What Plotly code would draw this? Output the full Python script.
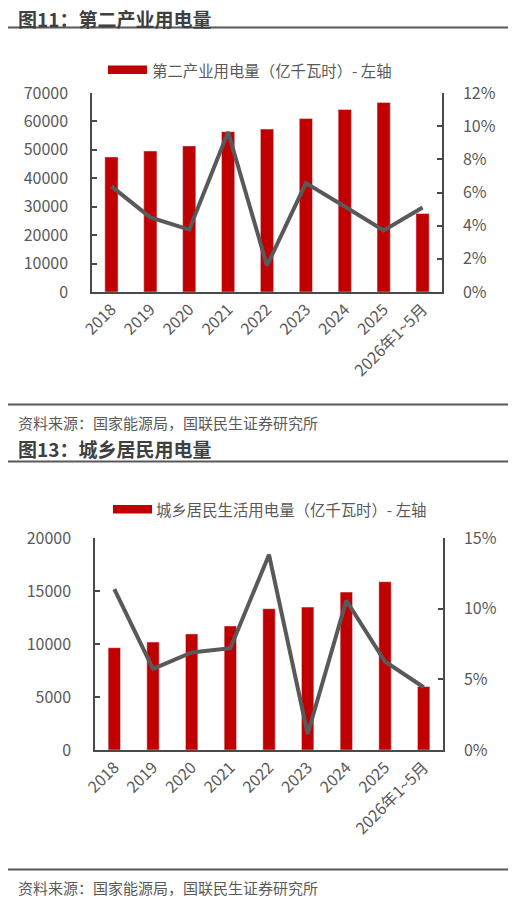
import plotly.graph_objects as go

# 数据
anos = ["2018", "2019", "2020", "2021", "2022", "2023", "2024", "2025", "2026年1~5月"]

# 图11 第二产业用电量（亿千瓦时）及同比
ind_consumo = [47500, 49600, 51400, 56400, 57300, 61000, 64200, 66700, 27600]
ind_yoy = [0.0637, 0.0450, 0.0376, 0.0965, 0.0159, 0.0657, 0.0516, 0.0371, 0.0510]

# 图13 城乡居民生活用电量（亿千瓦时）及同比
res_consumo = [9650, 10180, 10950, 11700, 13330, 13480, 14900, 15880, 5990]
res_yoy = [0.1139, 0.0574, 0.0690, 0.0720, 0.1382, 0.0113, 0.1058, 0.0626, 0.0444]

W, H = 516, 899
OFF = 8  # margem do body da página
FONTE = "Noto Sans CJK SC, Microsoft YaHei, sans-serif"
CINZA = "#595959"
EIXO = "#4a4a4a"
VERMELHO = "#C00000"


def px(x):
    return (x - OFF) / W


def py(y):
    return 1 - (y - OFF) / H


fig = go.Figure()

# barras + linha do gráfico 1
fig.add_trace(go.Bar(x=anos, y=ind_consumo, marker_color=VERMELHO, width=0.34,
                     xaxis="x", yaxis="y", showlegend=False))
fig.add_trace(go.Scatter(x=anos, y=ind_yoy, mode="lines", line=dict(color=CINZA, width=4),
                         xaxis="x", yaxis="y2", showlegend=False))

# barras + linha do gráfico 2
fig.add_trace(go.Bar(x=anos, y=res_consumo, marker_color=VERMELHO, width=0.32,
                     xaxis="x2", yaxis="y3", showlegend=False))
fig.add_trace(go.Scatter(x=anos, y=res_yoy, mode="lines", line=dict(color=CINZA, width=4),
                         xaxis="x2", yaxis="y4", showlegend=False))

tick_font = dict(family=FONTE, size=16, color=CINZA)

eixo_x = dict(showline=True, linecolor=EIXO, linewidth=1.5, ticks="", tickangle=-45,
              tickfont=tick_font, showgrid=False, fixedrange=True, automargin=False)
eixo_y = dict(showline=True, linecolor=EIXO, linewidth=1.5, ticks="inside", ticklen=5,
              tickcolor=EIXO, tickwidth=1.5, tickfont=tick_font, showgrid=False,
              zeroline=False, automargin=False)

fig.update_layout(
    width=W, height=H,
    margin=dict(l=0, r=0, t=0, b=0, autoexpand=False),
    paper_bgcolor="white", plot_bgcolor="white",
    font=dict(family=FONTE, color=CINZA),
    xaxis=dict(eixo_x, domain=[px(92), px(442)], anchor="y"),
    yaxis=dict(eixo_y, domain=[py(292), py(93)], range=[0, 70000], dtick=10000,
               tickformat="d", ticklabelstandoff=19, anchor="x"),
    yaxis2=dict(eixo_y, overlaying="y", side="right", range=[0, 0.12], dtick=0.02,
                tickformat=".0%", ticklabelstandoff=16, anchor="x"),
    xaxis2=dict(eixo_x, domain=[px(95), px(443)], anchor="y3"),
    yaxis3=dict(eixo_y, domain=[py(750), py(538)], range=[0, 20000], dtick=5000,
                tickformat="d", ticklabelstandoff=19, anchor="x2"),
    yaxis4=dict(eixo_y, overlaying="y3", side="right", range=[0, 0.15], dtick=0.05,
                tickformat=".0%", ticklabelstandoff=16, anchor="x2"),
)

# títulos, fontes e legendas como texto
textos = [
    ("图11：第二产业用电量", 17, 18, 19, True),
    ("资料来源：国家能源局，国联民生证券研究所", 17, 422, 15, False),
    ("图13：城乡居民用电量", 17, 448.5, 19, True),
    ("资料来源：国家能源局，国联民生证券研究所", 17, 887.5, 15, False),
    ("第二产业用电量（亿千瓦时）- 左轴", 151, 70, 15.4, False),
    ("城乡居民生活用电量（亿千瓦时）- 左轴", 155, 509, 15.4, False),
]
for txt, x, y, tam, negrito in textos:
    fig.add_annotation(
        text=f"<b>{txt}</b>" if negrito else txt,
        x=px(x), y=py(y), xref="paper", yref="paper",
        xanchor="left", yanchor="middle", showarrow=False, borderpad=0,
        font=dict(family=FONTE, size=tam, color="#404040" if negrito else CINZA),
    )

# linhas horizontais separadoras
for y in [27.5, 404.5, 461.5, 869.5]:
    fig.add_shape(type="line", xref="paper", yref="paper",
                  x0=px(6), x1=px(510), y0=py(y), y1=py(y),
                  line=dict(color="#595959", width=2))

# marcadores da legenda
for x0, x1, y0, y1 in [(108, 147, 65.5, 74), (113, 152, 505, 513.5)]:
    fig.add_shape(type="rect", xref="paper", yref="paper",
                  x0=px(x0), x1=px(x1), y0=py(y1), y1=py(y0),
                  fillcolor=VERMELHO, line=dict(width=0))

fig.write_html("out.html")
